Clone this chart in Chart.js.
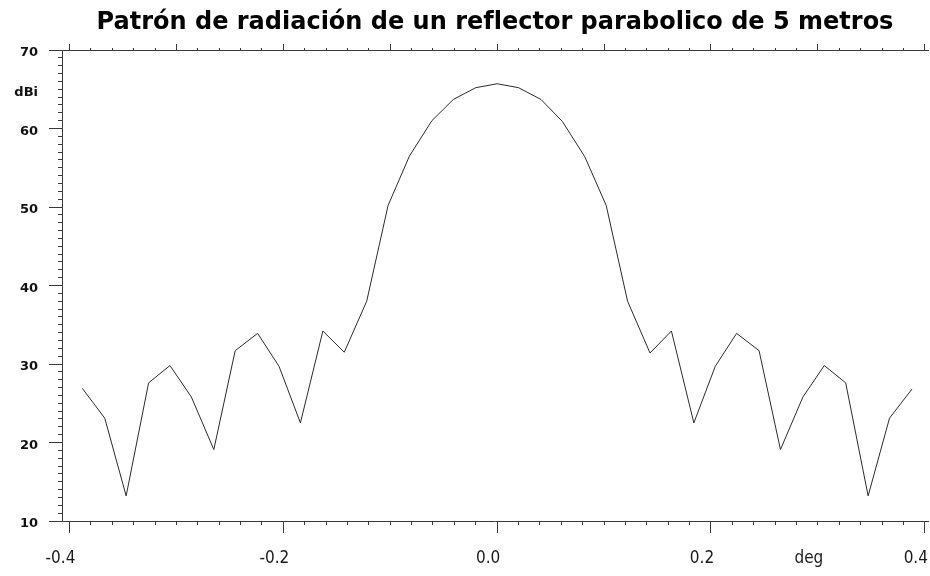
<!DOCTYPE html>
<html lang="es">
<head>
  <meta charset="UTF-8">
  <title>Patrón de radiación</title>
  <script src="https://cdn.jsdelivr.net/npm/chart.js"></script>
  <style>
    html, body { margin: 0; padding: 0; background: #fff; }
    canvas { display: block; }
  </style>
</head>
<body>
  <canvas id="patronChart" width="930" height="576"></canvas>

  <script>
    // angulo en grados y ganancia en dBi
    const angulos = [
      -0.388, -0.367, -0.347, -0.326, -0.306, -0.286, -0.265, -0.245, -0.224, -0.204,
      -0.184, -0.163, -0.143, -0.122, -0.102, -0.082, -0.061, -0.041, -0.020, 0.000,
      0.020, 0.041, 0.061, 0.082, 0.102, 0.122, 0.143, 0.163, 0.184, 0.204,
      0.224, 0.245, 0.265, 0.286, 0.306, 0.326, 0.347, 0.367, 0.388
    ];
    const ganancia = [
      26.9, 23.1, 13.2, 27.6, 29.8, 25.8, 19.1, 31.7, 33.9, 29.7,
      22.5, 34.2, 31.5, 38.0, 50.2, 56.5, 61.0, 63.7, 65.2, 65.7,
      65.2, 63.7, 60.9, 56.4, 50.2, 38.0, 31.4, 34.2, 22.5, 29.7,
      33.9, 31.7, 19.1, 25.8, 29.8, 27.6, 13.2, 23.1, 26.8
    ];

    // marcas principales y sus textos
    const ticksX = [-0.4, -0.2, 0.0, 0.2, 0.3, 0.4];
    const etiquetasX = ['-0.4', '-0.2', '0.0', '0.2', 'deg', '0.4'];
    const ticksY = [10, 20, 30, 40, 50, 60, 65, 70];
    const etiquetasY = ['10', '20', '30', '40', '50', '60', 'dBi', '70'];
    const ticksArriba = [-0.4, -0.3, -0.2, -0.1, 0.0, 0.1, 0.2, 0.3, 0.4];

    const X_MIN = -0.407, X_MAX = 0.403;
    const Y_MIN = 10, Y_MAX = 70;
    const colorEje = '#3a3a3a';
    const transparente = 'rgba(0,0,0,0)';

    function sinPadding(eje) {
      eje.paddingLeft = 0; eje.paddingRight = 0;
      eje.paddingTop = 0; eje.paddingBottom = 0;
    }

    const ctx = document.getElementById('patronChart').getContext('2d');
    new Chart(ctx, {
      type: 'line',
      data: {
        datasets: [{
          data: angulos.map((a, i) => ({ x: a, y: ganancia[i] })),
          borderColor: '#2b2b2b',
          borderWidth: 1,
          pointRadius: 0,
          tension: 0,
          fill: false,
          xAxisID: 'x',
          yAxisID: 'y'
        }]
      },
      options: {
        responsive: false,
        animation: false,
        devicePixelRatio: 1,
        layout: { padding: { left: 0, right: 2, top: 0, bottom: 0 } },
        plugins: {
          legend: { display: false },
          tooltip: { enabled: false },
          title: {
            display: true,
            fullSize: false,
            text: 'Patrón de radiación de un reflector parabolico de 5 metros',
            color: '#000',
            font: { family: "'DejaVu Sans', sans-serif", weight: 'bold', size: 24 },
            padding: { top: 8, bottom: 0 }
          }
        },
        scales: {
          // subdivisiones (cada 0.02 grados / 1 dBi)
          x: {
            type: 'linear', position: 'bottom', weight: 0, min: X_MIN, max: X_MAX,
            ticks: { display: false, stepSize: 0.02, includeBounds: false },
            grid: { drawOnChartArea: false, tickLength: 4, tickColor: colorEje },
            border: { color: colorEje },
            afterFit: (a) => { a.height = 4; sinPadding(a); }
          },
          xMajor: {
            type: 'linear', position: 'bottom', weight: 1, min: X_MIN, max: X_MAX,
            afterBuildTicks: (a) => { a.ticks = ticksX.map(v => ({ value: v })); },
            ticks: {
              autoSkip: false, maxRotation: 0, padding: 15, labelOffset: -9,
              color: '#1a1a1a',
              font: {
                family: "'DejaVu Sans Condensed', 'Liberation Sans Narrow', 'Liberation Sans', sans-serif",
                size: 17
              },
              callback: (v) => etiquetasX[ticksX.indexOf(v)]
            },
            grid: {
              drawOnChartArea: false, tickLength: 8,
              tickColor: (c) => (c.tick && c.tick.value === 0.3) ? transparente : colorEje
            },
            border: { display: false },
            afterFit: (a) => { a.height = 51; sinPadding(a); }
          },
          xTopMinor: {
            type: 'linear', position: 'top', weight: 0, min: X_MIN, max: X_MAX,
            ticks: { display: false, stepSize: 0.02, includeBounds: false },
            grid: { drawOnChartArea: false, tickLength: 2, tickColor: colorEje },
            border: { color: colorEje },
            afterFit: (a) => { a.height = 2; sinPadding(a); }
          },
          xTopMajor: {
            type: 'linear', position: 'top', weight: 1, min: X_MIN, max: X_MAX,
            afterBuildTicks: (a) => { a.ticks = ticksArriba.map(v => ({ value: v })); },
            ticks: { display: false },
            grid: { drawOnChartArea: false, tickLength: 4, tickColor: colorEje },
            border: { display: false },
            afterFit: (a) => { a.height = 11.2; sinPadding(a); }
          },
          y: {
            type: 'linear', position: 'left', weight: 0, min: Y_MIN, max: Y_MAX,
            ticks: { display: false, stepSize: 1 },
            grid: { drawOnChartArea: false, tickLength: 4, tickColor: colorEje },
            border: { color: colorEje },
            afterFit: (a) => { a.width = 4; sinPadding(a); }
          },
          yMajor: {
            type: 'linear', position: 'left', weight: 1, min: Y_MIN, max: Y_MAX,
            afterBuildTicks: (a) => { a.ticks = ticksY.map(v => ({ value: v })); },
            ticks: {
              autoSkip: false, padding: 11, labelOffset: 3, color: '#111',
              font: { family: "'DejaVu Sans', sans-serif", weight: 'bold', size: 13 },
              callback: (v) => etiquetasY[ticksY.indexOf(v)]
            },
            grid: {
              drawOnChartArea: false, tickLength: 9,
              tickColor: (c) => (c.tick && c.tick.value === 65) ? transparente : colorEje
            },
            border: { display: false },
            afterFit: (a) => { a.width = 58; sinPadding(a); }
          }
        }
      }
    });
  </script>
</body>
</html>
